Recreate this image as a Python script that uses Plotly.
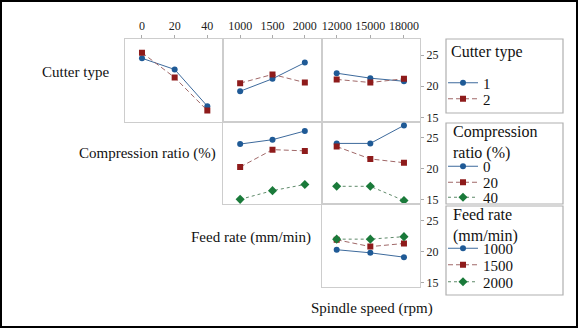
import plotly.graph_objects as go

# ---------------- data ----------------
compression_levels = [0, 20, 40]
feed_levels = [1000, 1500, 2000]
spindle_levels = [12000, 15000, 18000]

cutter_names = ["1", "2"]
compression_names = ["0", "20", "40"]
feed_names = ["1000", "1500", "2000"]

# Row 1: Cutter type interaction means
cutter_vs_compression = {"1": [24.5, 22.7, 16.8], "2": [25.4, 21.4, 16.1]}
cutter_vs_feed = {"1": [19.2, 21.2, 23.8], "2": [20.5, 21.9, 20.6]}
cutter_vs_spindle = {"1": [22.1, 21.3, 20.8], "2": [21.1, 20.6, 21.2]}

# Row 2: Compression ratio interaction means
compression_vs_feed = {"0": [24.0, 24.7, 26.1], "20": [20.3, 23.1, 22.9], "40": [15.1, 16.5, 17.5]}
compression_vs_spindle = {"0": [24.1, 24.1, 27.0], "20": [23.6, 21.6, 21.0], "40": [17.2, 17.2, 14.9]}

# Row 3: Feed rate interaction means
feed_vs_spindle = {"1000": [20.3, 19.8, 19.1], "1500": [21.9, 20.8, 21.3], "2000": [22.0, 22.0, 22.4]}

y_ticks = [15, 20, 25]

# ---------------- styles ----------------
FONT = "Liberation Serif"
W, H = 578, 328
L, R, T, B = 125, 158, 39, 41
PW, PH = W - L - R, H - T - B

def px(x):
    return (x - L) / PW

def py(y):
    return (H - B - y) / PH

styles = [
    dict(marker=dict(color="#1f5a96", symbol="circle", size=6), line=dict(color="#3d6a9c", width=1, dash="solid")),
    dict(marker=dict(color="#8e1b1b", symbol="square", size=6), line=dict(color="#a06868", width=1, dash="5px,3px")),
    dict(marker=dict(color="#1a7a3a", symbol="diamond", size=7), line=dict(color="#5f8a6a", width=1, dash="3px,3px")),
]

# one legend per entry so each entry sits at its own row inside the boxes
legend_rows = {
    ("cutter", "1"): ("legend", 83), ("cutter", "2"): ("legend2", 99),
    ("comp", "0"): ("legend3", 166.5), ("comp", "20"): ("legend4", 182.5), ("comp", "40"): ("legend5", 197.5),
    ("feed", "1000"): ("legend6", 248.5), ("feed", "1500"): ("legend7", 265), ("feed", "2000"): ("legend8", 282),
}

fig = go.Figure()

def add_group(x_levels, data, names, xa, ya, group, show):
    for i, n in enumerate(names):
        leg = legend_rows[(group, n)][0]
        fig.add_trace(go.Scatter(
            x=x_levels, y=data[n], name=n, mode="lines+markers",
            marker=styles[i]["marker"], line=styles[i]["line"],
            xaxis=xa, yaxis=ya, legend=leg, showlegend=show,
            legendgroup=group + n,
        ))

add_group(compression_levels, cutter_vs_compression, cutter_names, "x", "y", "cutter", True)
add_group(feed_levels, cutter_vs_feed, cutter_names, "x2", "y2", "cutter", False)
add_group(spindle_levels, cutter_vs_spindle, cutter_names, "x3", "y3", "cutter", False)
add_group(feed_levels, compression_vs_feed, compression_names, "x4", "y4", "comp", True)
add_group(spindle_levels, compression_vs_spindle, compression_names, "x5", "y5", "comp", False)
add_group(spindle_levels, feed_vs_spindle, feed_names, "x6", "y6", "feed", True)

cols = [[0, 1/3], [1/3, 2/3], [2/3, 1]]
rows = [[2/3, 1], [1/3, 2/3], [0, 1/3]]
xranges = [[-10.4, 49.8], [740, 2260], [10660, 19430]]
xticks = [compression_levels, feed_levels, spindle_levels]
yrange = [14.3, 27.6]

panels = [(0, 0), (0, 1), (0, 2), (1, 1), (1, 2), (2, 2)]
tickfont = dict(family=FONT, size=12, color="#222")
border = "#cdcdcd"
for k, (r, c) in enumerate(panels):
    sfx = "" if k == 0 else str(k + 1)
    top = r == 0
    right = c == 2
    fig.layout["xaxis" + sfx] = dict(
        domain=cols[c], range=xranges[c], anchor="y" + sfx,
        showline=True, mirror=True, linecolor=border, linewidth=1.2,
        showgrid=False, zeroline=False,
        side="top", tickvals=xticks[c] if top else [],
        ticktext=[str(v) for v in xticks[c]] if top else [],
        showticklabels=top, ticks="outside" if top else "", ticklen=3,
        tickcolor="#aaa", tickfont=tickfont,
    )
    fig.layout["yaxis" + sfx] = dict(
        domain=rows[r], range=yrange, anchor="x" + sfx,
        showline=True, mirror=True, linecolor=border, linewidth=1.2,
        showgrid=False, zeroline=False,
        side="right", tickvals=y_ticks if right else [],
        showticklabels=right, ticks="outside" if right else "", ticklen=3,
        tickcolor="#aaa", tickfont=tickfont,
    )

legfont = dict(family=FONT, size=15, color="#111")
for leg, yy in legend_rows.values():
    fig.layout[leg] = dict(x=px(443), y=py(yy), xanchor="left", yanchor="middle",
                           bgcolor="rgba(0,0,0,0)", borderwidth=0, font=legfont,
                           itemwidth=30, itemclick=False, itemdoubleclick=False)

annots = [
    dict(text="Cutter type", x=px(111), y=py(72), xanchor="right", size=15),
    dict(text="Compression ratio (%)", x=px(218), y=py(153), xanchor="right", size=15),
    dict(text="Feed rate (mm/min)", x=px(313), y=py(237), xanchor="right", size=15),
    dict(text="Spindle speed (rpm)", x=px(372), y=py(308), xanchor="center", size=15),
    dict(text="Cutter type", x=px(449), y=py(52), xanchor="left", size=16),
    dict(text="Compression<br>ratio (%)", x=px(451), y=py(142), xanchor="left", size=16),
    dict(text="Feed rate<br>(mm/min)", x=px(451), y=py(225), xanchor="left", size=16),
]
for a in annots:
    fig.add_annotation(text=a["text"], x=a["x"], y=a["y"], xref="paper", yref="paper",
                       xanchor=a["xanchor"], yanchor="middle", showarrow=False, align="left",
                       font=dict(family=FONT, size=a["size"], color="#111"))

boxes = [(446, 39, 563, 113), (446, 123, 563, 204), (446, 206, 563, 295)]
for x0, y0, x1, y1 in boxes:
    fig.add_shape(type="rect", xref="paper", yref="paper", x0=px(x0), x1=px(x1),
                  y0=py(y1), y1=py(y0), line=dict(color="#b0b0b0", width=1.2))
fig.add_shape(type="rect", xref="paper", yref="paper", x0=px(1), x1=px(577),
              y0=py(327), y1=py(1), line=dict(color="#000", width=2))

fig.update_layout(
    width=W, height=H, margin=dict(l=L, r=R, t=T, b=B, autoexpand=False),
    paper_bgcolor="white", plot_bgcolor="white",
    font=dict(family=FONT),
)

fig.write_html("out.html", config={"displayModeBar": False},
               post_script="document.body.style.margin='0';document.body.style.overflow='hidden';")
